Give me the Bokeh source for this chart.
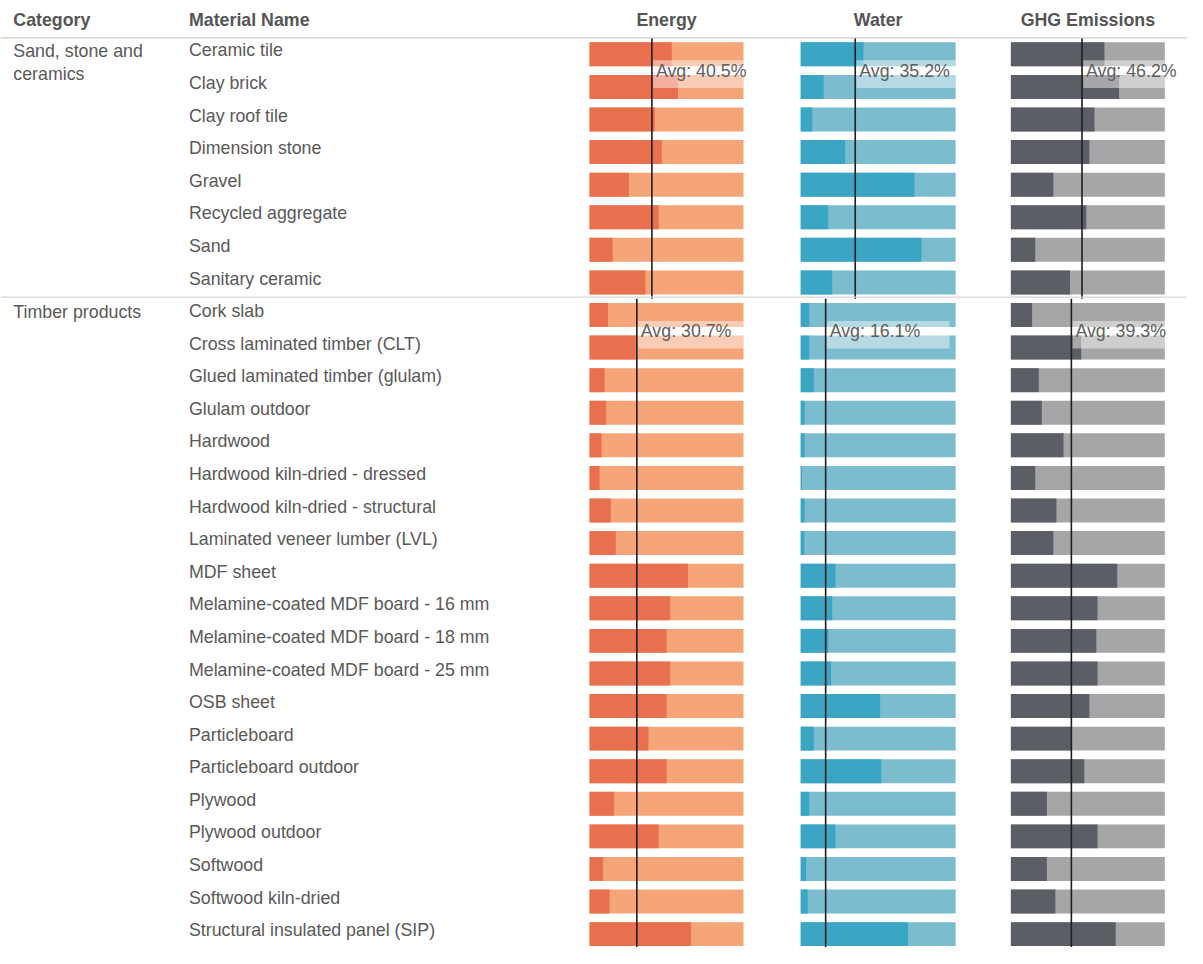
from bokeh.plotting import figure
from bokeh.models import Range1d, Span, ColumnDataSource
from bokeh.core.properties import value
from bokeh.embed import file_html
from bokeh.resources import INLINE

# ---------------- data ----------------
categories = ["Sand, stone and\nceramics", "Timber products"]
category_sizes = [8, 20]
materials = [
    "Ceramic tile", "Clay brick", "Clay roof tile", "Dimension stone", "Gravel",
    "Recycled aggregate", "Sand", "Sanitary ceramic",
    "Cork slab", "Cross laminated timber (CLT)", "Glued laminated timber (glulam)",
    "Glulam outdoor", "Hardwood", "Hardwood kiln-dried - dressed",
    "Hardwood kiln-dried - structural", "Laminated veneer lumber (LVL)", "MDF sheet",
    "Melamine-coated MDF board - 16 mm", "Melamine-coated MDF board - 18 mm",
    "Melamine-coated MDF board - 25 mm", "OSB sheet", "Particleboard",
    "Particleboard outdoor", "Plywood", "Plywood outdoor", "Softwood",
    "Softwood kiln-dried", "Structural insulated panel (SIP)",
]
energy = [53.4, 57.4, 42.4, 46.9, 25.6, 44.9, 15.0, 36.3,
          12.0, 30.0, 9.8, 10.8, 7.8, 6.5, 13.8, 17.0, 63.9, 52.4, 50.1, 52.4,
          50.1, 38.3, 50.1, 16.0, 44.9, 8.8, 13.0, 65.9]
water = [40.5, 14.8, 7.5, 28.6, 73.4, 17.8, 77.9, 20.4,
         5.5, 5.5, 8.5, 2.5, 2.5, 0.8, 2.5, 2.3, 22.4, 20.4, 17.8, 19.6,
         51.3, 8.5, 52.0, 5.5, 22.4, 3.5, 4.5, 69.3]
ghg = [60.8, 70.3, 54.3, 51.0, 27.6, 49.0, 15.8, 38.4,
       13.8, 45.7, 18.1, 20.1, 34.2, 15.8, 29.6, 27.6, 69.1, 56.3, 55.5, 56.3,
       51.0, 39.7, 47.7, 23.4, 56.3, 23.4, 28.9, 68.1]
avg_energy = [40.5, 30.7]
avg_water = [35.2, 16.1]
avg_ghg = [46.2, 39.3]
metric_names = ["Energy", "Water", "GHG Emissions"]
header_labels = ["Category", "Material Name"]

# ---------------- layout / style ----------------
W, H = 1187, 947
REF_W, REF_H = 1203.0, 964.0
SX, SY = W / REF_W, H / REF_H
ROW0 = 54.8 * SY          # pixel centre of first row
PITCH = 33.17 * SY
BAR_H = 24.4 / 33.17
# reference pixel spans of 0..100% for each metric column
spans = {"Energy": (597, 753), "Water": (811, 968), "GHG Emissions": (1024, 1180)}
colors = {
    "Energy": ("#E9704F", "#F5A578"),
    "Water": ("#3BA6C4", "#7BBCCE"),
    "GHG Emissions": ("#5B5F65", "#A6A6A8"),
}
FONT = value("Liberation Sans")
FS = "%.1fpx" % (18 * SX)
TXT = "#595959"
HDR = "#555555"
LINE = "#d6d6d6"

def row_of(ref_px):
    return (ref_px * SY - ROW0) / PITCH

p = figure(width=W, height=H, output_backend="svg", toolbar_location=None,
           x_range=Range1d(0, REF_W), y_range=Range1d(row_of(REF_H), row_of(0)),
           x_axis_location=None, y_axis_location=None, min_border=0,
           outline_line_color=None, background_fill_color="white",
           border_fill_color="white")
p.grid.visible = False

for name, (a, b) in spans.items():
    scale = (b - a) / 100.0
    p.extra_x_ranges[name] = Range1d(-a / scale, (REF_W - a) / scale)

# separator lines
p.add_layout(Span(location=row_of(38), dimension="width", line_color=LINE, line_width=1.5))
starts = []
s = 0
for n in category_sizes:
    starts.append(s)
    s += n
for st in starts[1:]:
    p.add_layout(Span(location=st - 0.55, dimension="width", line_color=LINE, line_width=1.2))

rows = list(range(len(materials)))
values = {"Energy": energy, "Water": water, "GHG Emissions": ghg}
avgs = {"Energy": avg_energy, "Water": avg_water, "GHG Emissions": avg_ghg}

for name in metric_names:
    dark, light = colors[name]
    src = ColumnDataSource(dict(y=rows, v=values[name], full=[100] * len(rows)))
    p.hbar(y="y", left=0, right="full", height=BAR_H, source=src,
           fill_color=light, line_color=None, x_range_name=name)
    p.hbar(y="y", left=0, right="v", height=BAR_H, source=src,
           fill_color=dark, line_color=None, x_range_name=name)
    # average lines
    y0 = [st - 0.5 for st in starts]
    y1 = [st + n - 0.5 for st, n in zip(starts, category_sizes)]
    asrc = ColumnDataSource(dict(
        a=avgs[name], y0=y0, y1=y1,
        bl=[a + 0.8 for a in avgs[name]],
        br=[min(a + 80, 100) for a in avgs[name]],
        bt=[st + 0.5 - 0.32 for st in starts],
        bb=[st + 0.5 + 0.53 for st in starts],
        ty=[st + 0.5 for st in starts],
        tx=[a + 2.6 for a in avgs[name]],
        label=["Avg: %.1f%%" % a for a in avgs[name]],
    ))
    p.segment(x0="a", x1="a", y0="y0", y1="y1", source=asrc, line_color="#1e1e1e",
              line_width=1.6, x_range_name=name)
    p.quad(left="bl", right="br", top="bt", bottom="bb", source=asrc,
           fill_color="white", fill_alpha=0.45, line_color=None, x_range_name=name)
    p.text(x="tx", y="ty", text="label", source=asrc, text_font=FONT,
           text_font_size=FS, text_color="#606060", text_baseline="middle",
           x_range_name=name)
    # column header
    p.text(x=[50], y=[row_of(20)], text=[name], text_font=FONT, text_font_size=FS,
           text_font_style="bold", text_color=HDR, text_align="center",
           text_baseline="middle", x_range_name=name)

# left headers
p.text(x=[13, 191], y=[row_of(20)] * 2, text=header_labels, text_font=FONT,
       text_font_size=FS, text_font_style="bold", text_color=HDR,
       text_baseline="middle")

# material names
p.text(x=[191] * len(materials), y=[r - 0.12 for r in rows], text=materials,
       text_font=FONT, text_font_size=FS, text_color=TXT, text_baseline="middle")

# categories
p.text(x=[13] * len(categories), y=[st - 0.40 for st in starts], text=categories,
       text_font=FONT, text_font_size=FS, text_color=TXT, text_baseline="top",
       text_line_height=1.15)

open("out.html", "w").write(file_html(p, INLINE))
